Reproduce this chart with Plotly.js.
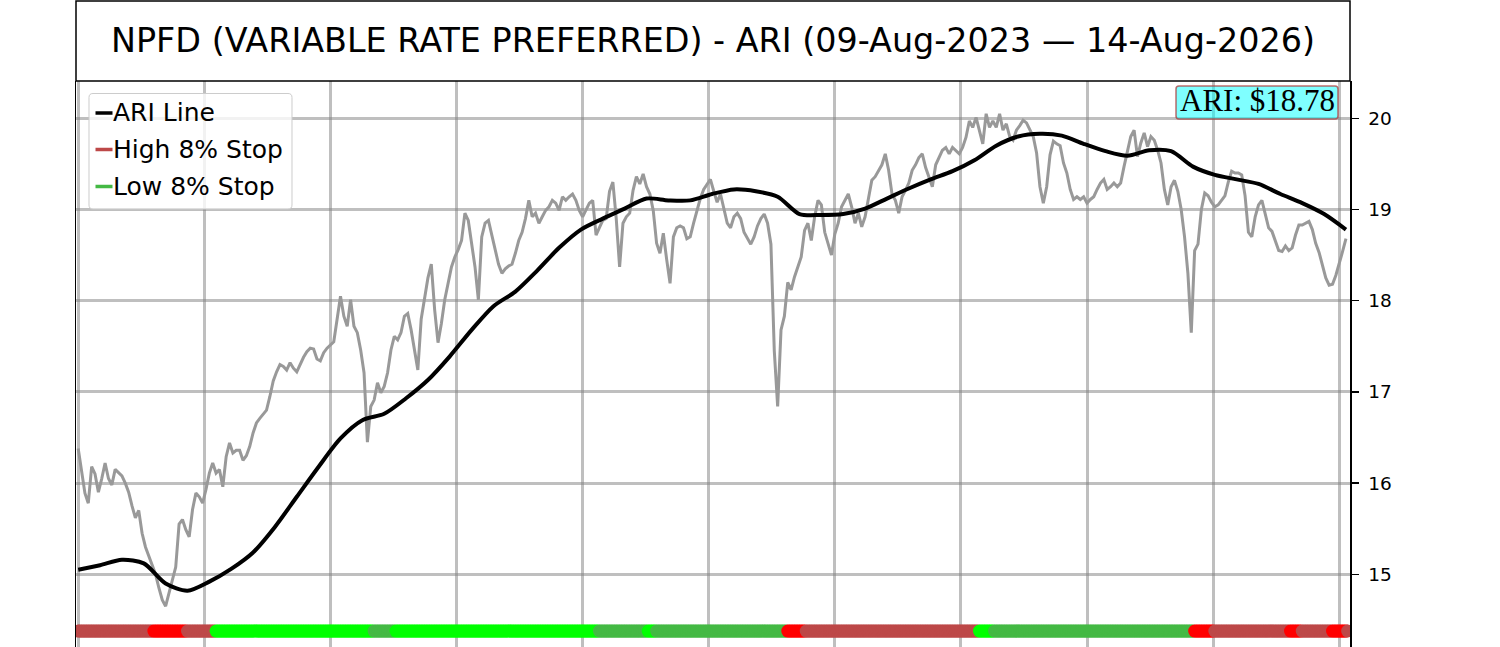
<!DOCTYPE html>
<html>
<head>
<meta charset="utf-8">
<script src="https://cdn.plot.ly/plotly-3.0.1.min.js"></script>
<style>html,body{margin:0;padding:0;background:#fff;}#chart{width:1500px;height:647px;}</style>
</head>
<body>
<div id="chart"></div>
<script>
// ---- DATA ----
const chartTitle = 'NPFD (VARIABLE RATE PREFERRED) - ARI (09-Aug-2023 \u2014 14-Aug-2026)';
const sessionCount = 756;          // trading sessions shown (index 0..755)
const priceStep = 2;               // price sampled every 2 sessions
const ariStep = 13;                // ARI sampled every 13 sessions

const pricesA = [
16.38,16.11,15.89,15.78,16.18,16.10,15.90,16.05,16.22,16.05,
15.98,16.15,16.12,16.08,16.00,15.90,15.75,15.62,15.70,15.45,
15.30,15.20,15.10,15.00,14.85,14.72,14.65,14.80,14.95,15.08,
15.55,15.60,15.49,15.41,15.71,15.89,15.85,15.78,15.93,16.11,
16.22,16.11,16.15,15.96,16.29,16.44,16.33,16.36,16.36,16.25,
16.30,16.40,16.55,16.66,16.71,16.75,16.80,16.95,17.12,17.22,
17.30,17.28,17.24,17.32,17.26,17.22,17.30,17.38,17.44,17.48,
17.47,17.36,17.34,17.43,17.48,17.52,17.55,17.80,18.05,17.83,
17.72,18.01,17.72,17.65,17.46,17.21,16.45,16.84,16.91,17.10,
16.99,17.06,17.21,17.46,17.61,17.57,17.65];
const pricesB = [
17.83,17.86,17.68,17.46,17.24,17.80,18.05,18.25,18.40,17.90,
17.54,17.75,18.01,18.19,18.37,18.48,18.56,18.66,18.96,18.88,
18.63,18.37,18.01,18.70,18.85,18.88,18.72,18.55,18.40,18.30,
18.35,18.38,18.40,18.52,18.66,18.75,18.90,19.10,18.92,18.96,
18.85,18.92,18.99,19.03,19.10,19.07,18.99,19.14,19.10,19.14,
19.17,19.10,18.99,18.92,18.99,19.07,19.10,18.72,18.80,18.88,
18.90,19.20,19.30,18.90,18.37,18.85,18.92,18.96,19.21,19.36,
19.28,19.39,19.25,19.17,18.99,18.63,18.52,18.74,18.45,18.19,
18.70,18.80,18.82,18.80,18.68,18.70,18.85,18.98,19.12,19.22,
19.27,19.33,19.20,19.08];
const pricesC = [
19.17,19.00,18.85,18.80,18.92,18.96,18.90,18.75,18.68,18.62,
18.70,18.82,18.90,18.95,18.85,18.62,17.45,16.84,17.68,17.83,
18.20,18.12,18.26,18.37,18.48,18.77,18.85,18.66,18.92,19.10,
19.05,18.75,18.62,18.50,18.73,18.85,19.03,19.10,19.17,19.03,
18.85,18.96,18.81,18.92,19.14,19.32,19.36,19.43,19.49,19.61,
19.43,19.17,19.10,18.96,19.14,19.21,19.29,19.43,19.49,19.57,
19.61,19.46,19.36,19.25,19.49,19.57,19.65,19.68,19.61,19.68,
19.65,19.61,19.68,19.79,19.97,19.90,20.01,19.85,19.72,20.05,
19.90,19.97,19.90,20.05,19.87,19.94,19.80,19.76,19.87,19.92,
19.98,19.95,19.88,19.80,19.62];
const pricesD = [
19.25,19.07,19.25,19.60,19.75,19.72,19.70,19.51,19.40,19.22,
19.11,19.14,19.11,19.14,19.07,19.11,19.14,19.22,19.29,19.33,
19.22,19.25,19.29,19.25,19.29,19.47,19.65,19.80,19.87,19.58,
19.73,19.84,19.69,19.80,19.76,19.65,19.51,19.22,19.05,19.25,
19.32,19.20,19.00,18.70,18.30,17.65,18.55,18.62,19.00,19.18,
19.15,19.08,19.03,19.05,19.10,19.15,19.30,19.42,19.40,19.40,
19.38,19.15,18.75,18.70,18.92,19.05,19.10,18.95,18.80,18.76,
18.65,18.55,18.54,18.60,18.55,18.58,18.72,18.83,18.83,18.85,
18.87,18.78,18.63,18.53,18.40,18.25,18.17,18.18,18.28,18.40,
18.54,18.68];

const ariValues = [
15.05,15.10,15.16,15.12,14.90,14.82,14.92,15.06,15.24,15.52,
15.85,16.18,16.49,16.69,16.76,16.93,17.13,17.39,17.68,17.94,
18.10,18.33,18.58,18.78,18.90,19.01,19.12,19.10,19.10,19.17,
19.22,19.20,19.14,18.95,18.94,18.95,19.01,19.12,19.23,19.33,
19.42,19.54,19.70,19.80,19.83,19.81,19.72,19.64,19.59,19.65,
19.64,19.47,19.38,19.33,19.28,19.17,19.07,18.95,18.78];

// stop-state band: segment start session and state
const stopStarts = [0,45,65,82,176,189,310,339,344,422,433,536,545,664,676,721,728,746,755];
const stopStates = ['high','highAlert','high','lowAlert','low','lowAlert','low','lowAlert','low',
                    'highAlert','high','lowAlert','low','highAlert','high','highAlert','high','highAlert','high'];
const stopLevel = 14.378;

const seriesNames = ['ARI Line','High 8% Stop','Low 8% Stop'];
const yTicks = [15,16,17,18,19,20];

// ---- STYLE ----
const stateColor = {high:'#BD4848', highAlert:'#FF0000', low:'#44B944', lowAlert:'#00FF00'};
const gridColor = 'rgba(128,128,128,0.5)';

// ---- BUILD ----
const prices = pricesA.concat(pricesB, pricesC, pricesD);
const priceX = prices.map((_, i) => i * priceStep);
const ariX = ariValues.map((_, i) => i * ariStep);

const bandX = [], bandC = [];
for (let d = 0; d < sessionCount; d++) {
  let s = 0;
  for (let k = 0; k < stopStarts.length; k++) if (stopStarts[k] <= d) s = k;
  bandX.push(d);
  bandC.push(stateColor[stopStates[s]]);
}
const bandY = bandX.map(() => stopLevel);

const traces = [
  {type:'scatter', mode:'lines', x:priceX, y:prices, name:'Price',
   line:{color:'#999999', width:3}, hoverinfo:'skip'},
  {type:'scatter', mode:'lines', x:ariX, y:ariValues, name:seriesNames[0],
   line:{color:'black', width:4, shape:'spline', smoothing:0.8}},
  {type:'scatter', mode:'markers', x:bandX, y:bandY, name:'Stops',
   marker:{size:13, color:bandC, line:{width:0}}, hoverinfo:'skip'}
];

// pixel -> paper helpers for decorations
const L = 76, R = 1350, T = 81, B = 647;
const px = p => (p - L) / (R - L);
const py = p => (B - p) / (B - T);
function roundRect(x0, y0, x1, y1, r) {
  const X = v => px(v).toFixed(5), Y = v => py(v).toFixed(5);
  return `M${X(x0+r)},${Y(y0)} L${X(x1-r)},${Y(y0)} Q${X(x1)},${Y(y0)} ${X(x1)},${Y(y0+r)} ` +
         `L${X(x1)},${Y(y1-r)} Q${X(x1)},${Y(y1)} ${X(x1-r)},${Y(y1)} L${X(x0+r)},${Y(y1)} ` +
         `Q${X(x0)},${Y(y1)} ${X(x0)},${Y(y1-r)} L${X(x0)},${Y(y0+r)} Q${X(x0)},${Y(y0)} ${X(x0+r)},${Y(y0)} Z`;
}

const legendColors = ['black', stateColor.high, stateColor.low];
const legendRows = [113, 149.5, 186.5];

const shapes = [
  // title frame
  {type:'rect', xref:'paper', yref:'paper', x0:0, x1:1, y0:1, y1:py(1),
   line:{color:'black', width:1.5}, fillcolor:'rgba(0,0,0,0)', layer:'above'},
  // legend frame
  {type:'path', xref:'paper', yref:'paper', path:roundRect(89, 93.5, 292, 209, 4),
   fillcolor:'rgba(255,255,255,0.8)', line:{color:'#CCCCCC', width:1}, layer:'above'},
  // ARI value box
  {type:'path', xref:'paper', yref:'paper', path:roundRect(1176, 86, 1338, 119, 3),
   fillcolor:'rgba(0,255,255,0.5)', line:{color:'rgba(170,60,60,0.75)', width:1.5}, layer:'above'}
];
legendRows.forEach((yy, i) => {
  shapes.push({type:'line', xref:'paper', yref:'paper', x0:px(95.5), x1:px(112.5), y0:py(yy), y1:py(yy),
               line:{color:legendColors[i], width:3.5}, layer:'above'});
});

const annotations = legendRows.map((yy, i) => ({
  xref:'paper', yref:'paper', x:px(111), y:py(yy), xanchor:'left', yanchor:'middle',
  text:seriesNames[i], showarrow:false, font:{family:'DejaVu Sans', size:25, color:'black'}
}));
annotations.push({
  xref:'paper', yref:'paper', x:px(1257), y:py(100), xanchor:'center', yanchor:'middle',
  text:'ARI: $' + ariValues[ariValues.length - 1].toFixed(2), showarrow:false,
  font:{family:'Liberation Serif', size:31, color:'black'}
});

const layout = {
  width:1500, height:647,
  margin:{l:L, r:1500 - R, t:T, b:0, pad:0},
  paper_bgcolor:'white', plot_bgcolor:'white',
  showlegend:false,
  font:{family:'DejaVu Sans', color:'black'},
  title:{text:chartTitle, font:{family:'DejaVu Sans', size:33.4, color:'black'},
         x:0.5, xref:'paper', xanchor:'center', y:1 - 40/647, yref:'container', yanchor:'middle'},
  xaxis:{range:[-1.31, 756.4], tickmode:'linear', tick0:0, dtick:75, showticklabels:false, ticks:'',
         showgrid:true, gridcolor:gridColor, gridwidth:3, zeroline:false, showline:false, fixedrange:true},
  yaxis:{range:[14.203, 20.409], side:'right', tickmode:'array', tickvals:yTicks, ticktext:yTicks.map(String),
         ticks:'outside', ticklen:7, tickwidth:1.5, tickcolor:'black', ticklabelstandoff:6,
         tickfont:{family:'DejaVu Sans', size:18.5, color:'black'},
         showgrid:true, gridcolor:gridColor, gridwidth:3, zeroline:false,
         showline:true, mirror:true, linecolor:'black', linewidth:1.5, fixedrange:true},
  shapes:shapes, annotations:annotations
};

Plotly.newPlot('chart', traces, layout, {displayModeBar:false, staticPlot:true});
</script>
</body>
</html>
